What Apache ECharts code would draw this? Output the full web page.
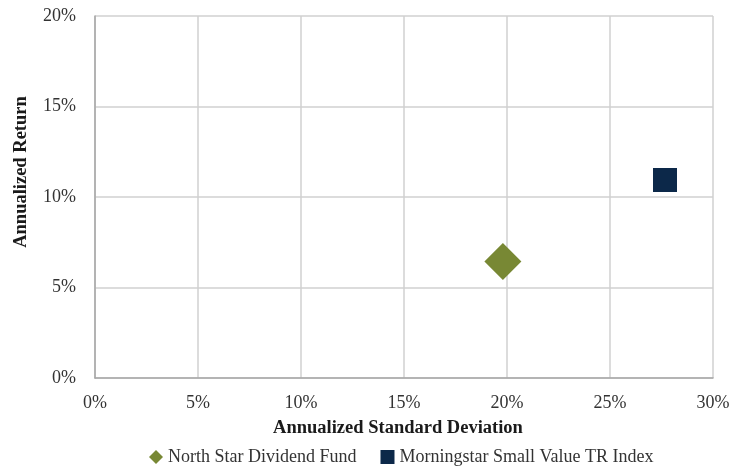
<!DOCTYPE html>
<html><head><meta charset="utf-8">
<script src="https://cdn.jsdelivr.net/npm/echarts@6/dist/echarts.min.js"></script>
<style>html,body{margin:0;padding:0;background:#fff}#c{width:746px;height:467px}</style>
</head><body><div id="c"></div>
<script>
const seriesNames = ["North Star Dividend Fund", "Morningstar Small Value TR Index"];
const fundPoint = [19.8, 6.43];       // [std dev %, return %]
const indexPoint = [27.67, 10.94];
const xTicks = [0, 5, 10, 15, 20, 25, 30];
const yTicks = [0, 5, 10, 15, 20];

const font = "'Liberation Serif', 'DejaVu Serif', serif";
const chart = echarts.init(document.getElementById('c'));
chart.setOption({
  animation: false,
  textStyle: { fontFamily: font },
  grid: { left: 95, right: 33, top: 16, bottom: 89, containLabel: false },
  xAxis: {
    type: 'value', min: xTicks[0], max: xTicks[xTicks.length - 1], interval: 5,
    name: 'Annualized Standard Deviation', nameLocation: 'middle', nameGap: 41,
    nameTextStyle: { fontFamily: font, fontWeight: 'bold', fontSize: 18.5, color: '#1a1a1a', padding: [0, 12, 0, 0] },
    axisLine: { show: true, lineStyle: { color: '#a6a6a6', width: 1.5 } },
    axisTick: { show: false },
    axisLabel: { formatter: v => v + '%', fontFamily: font, fontSize: 18, color: '#333', margin: 16 },
    splitLine: { show: true, lineStyle: { color: '#d0d0d0', width: 1.5 } }
  },
  yAxis: {
    type: 'value', min: yTicks[0], max: yTicks[yTicks.length - 1], interval: 5,
    name: 'Annualized Return', nameLocation: 'middle', nameGap: 64, nameRotate: 90,
    nameTextStyle: { fontFamily: font, fontWeight: 'bold', fontSize: 18.5, color: '#1a1a1a', padding: [0, 0, 0, 50] },
    axisLine: { show: true, lineStyle: { color: '#a6a6a6', width: 1.5 } },
    axisTick: { show: false },
    axisLabel: { formatter: v => v + '%', fontFamily: font, fontSize: 18, color: '#333', margin: 19 },
    splitLine: { show: true, lineStyle: { color: '#d0d0d0', width: 1.5 } }
  },
  legend: {
    top: 443, left: 144, itemGap: 24, itemWidth: 14, itemHeight: 14,
    textStyle: { fontFamily: font, fontSize: 18, color: '#333' },
    data: [
      { name: seriesNames[0], icon: 'diamond' },
      { name: seriesNames[1], icon: 'rect' }
    ]
  },
  series: [
    { name: seriesNames[0], type: 'scatter', symbol: 'diamond', symbolSize: 37,
      itemStyle: { color: '#788834', opacity: 1 }, data: [fundPoint] },
    { name: seriesNames[1], type: 'scatter', symbol: 'rect', symbolSize: 24,
      itemStyle: { color: '#0c2849', opacity: 1 }, data: [indexPoint] }
  ]
});
</script></body></html>
